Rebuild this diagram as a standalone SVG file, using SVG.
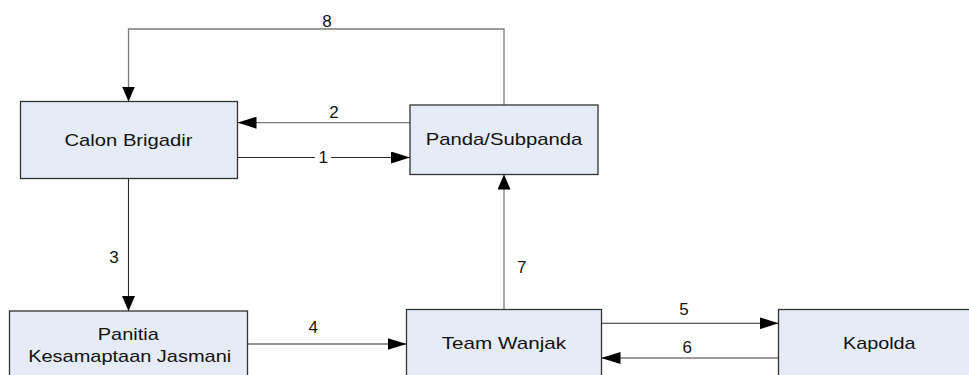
<svg xmlns="http://www.w3.org/2000/svg" width="969" height="375" viewBox="0 0 969 375">
<style>
  .box { fill: #e6ecf7; stroke: #333333; stroke-width: 1.3; }
  .lbl { font-family: "Liberation Sans", Arial, sans-serif; font-size: 17px; fill: #111111; text-anchor: middle; }
  .num { font-family: "Liberation Sans", Arial, sans-serif; font-size: 17px; fill: #111111; text-anchor: middle; }
  .cg { fill: none; stroke: #7a7a7a; stroke-width: 1.3; }
  .cd { fill: none; stroke: #2a2a2a; stroke-width: 1.1; }
</style>
<defs>
  <marker id="ah" markerWidth="19" markerHeight="12" refX="19" refY="6" orient="auto" markerUnits="userSpaceOnUse">
    <path d="M0,0 L19,6 L0,12 z" fill="#000000"/>
  </marker>
  <marker id="av" markerWidth="15" markerHeight="13" refX="15" refY="6.5" orient="auto" markerUnits="userSpaceOnUse">
    <path d="M0,0 L15,6.5 L0,13 z" fill="#000000"/>
  </marker>
</defs>

<g id="connectors">
  <path id="c8" class="cg" d="M504,105 V29 H128.5 V101.5" marker-end="url(#av)"/>
  <path id="c2" class="cg" d="M410,122.7 H237.5" marker-end="url(#ah)"/>
  <path id="c1" class="cd" d="M237.5,157.5 H410" marker-end="url(#ah)"/>
  <path id="c3" class="cd" d="M128.5,178.5 V311" marker-end="url(#av)"/>
  <path id="c4" class="cd" d="M247.5,344 H406.5" marker-end="url(#ah)"/>
  <path id="c5" class="cd" d="M601.5,323.3 H778.5" marker-end="url(#ah)"/>
  <path id="c6" class="cg" d="M778.5,358 H601.5" marker-end="url(#ah)"/>
  <path id="c7" class="cg" d="M504,309.5 V174.5" marker-end="url(#av)"/>
  <rect x="315" y="150" width="16" height="15" fill="#ffffff"/>
  <text class="num" x="327" y="26.5">8</text>
  <text class="num" x="334" y="118">2</text>
  <text class="num" x="323.3" y="162.7">1</text>
  <text class="num" x="114" y="263">3</text>
  <text class="num" x="313.3" y="332.5">4</text>
  <text class="num" x="684" y="315">5</text>
  <text class="num" x="687.3" y="353">6</text>
  <text class="num" x="521.7" y="272.5">7</text>
</g>

<g id="calon-brigadir">
  <rect class="box" x="20.5" y="101.5" width="217" height="77"/>
  <text class="lbl" x="128.5" y="145.7" textLength="128" lengthAdjust="spacingAndGlyphs">Calon Brigadir</text>
</g>

<g id="panda-subpanda">
  <rect class="box" x="410" y="105" width="188" height="69.5"/>
  <text class="lbl" x="504" y="145.3" textLength="156.5" lengthAdjust="spacingAndGlyphs">Panda/Subpanda</text>
</g>

<g id="panitia">
  <rect class="box" x="9.5" y="311" width="238" height="80"/>
  <text class="lbl" x="128.3" y="340" textLength="61" lengthAdjust="spacingAndGlyphs">Panitia</text>
  <text class="lbl" x="129.7" y="362.3" textLength="203" lengthAdjust="spacingAndGlyphs">Kesamaptaan Jasmani</text>
</g>

<g id="team-wanjak">
  <rect class="box" x="406.5" y="309.5" width="195" height="80"/>
  <text class="lbl" x="503.9" y="349.2" textLength="124.3" lengthAdjust="spacingAndGlyphs">Team Wanjak</text>
</g>

<g id="kapolda">
  <rect class="box" x="778.5" y="309.5" width="220" height="80"/>
  <text class="lbl" x="879.3" y="349.2" textLength="72.7" lengthAdjust="spacingAndGlyphs">Kapolda</text>
</g>
</svg>
